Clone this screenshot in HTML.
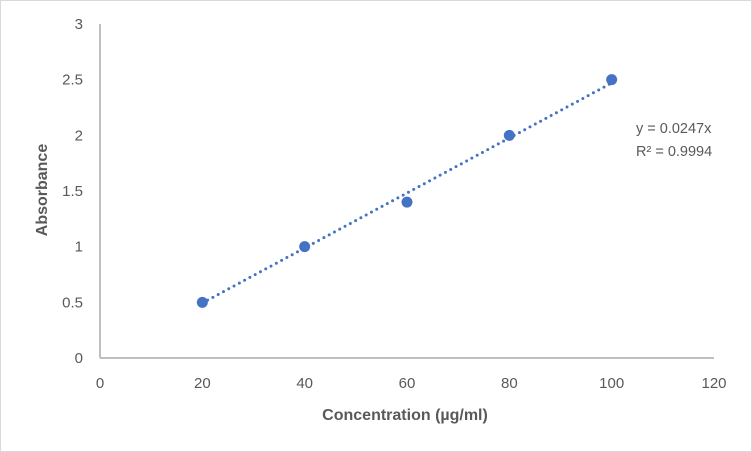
<!DOCTYPE html>
<html><head><meta charset="utf-8"><style>
body{margin:0;background:#fff}
svg{display:block;font-family:"Liberation Sans",sans-serif}
</style></head><body>
<svg id="chart" width="752" height="452">
<rect x="0.5" y="0.5" width="751" height="451" fill="#fff" stroke="#d9d9d9"/>
<g id="axes"></g><g id="marks"></g>
<text x="405" y="420" text-anchor="middle" font-size="16" font-weight="bold" fill="#595959">Concentration (µg/ml)</text>
<text transform="translate(47,190) rotate(-90)" text-anchor="middle" font-size="16" font-weight="bold" fill="#595959">Absorbance</text>
<text x="636" y="133" font-size="14.5" fill="#595959">y = 0.0247x</text>
<text x="636" y="156" font-size="14.5" fill="#595959">R² = 0.9994</text>
</svg>
<script>
const xVals=[20,40,60,80,100];
const yVals=[0.5,1.0,1.4,2.0,2.5];
const xTicks=[0,20,40,60,80,100,120];
const yTicks=[0,0.5,1,1.5,2,2.5,3];
const slope=0.0247;
const NS='http://www.w3.org/2000/svg';
const X=v=>100+v*(714-100)/120;
const Y=v=>358-v*(358-24)/3;
function mk(t,a,p){const e=document.createElementNS(NS,t);for(const k in a)e.setAttribute(k,a[k]);p.appendChild(e);return e;}
const axes=document.getElementById('axes'),marks=document.getElementById('marks');
let l=mk('line',{x1:X(0),y1:Y(0),x2:X(120),y2:Y(0),stroke:'#bfbfbf','stroke-width':2},axes);


l=mk('line',{x1:X(0),y1:Y(0),x2:X(0),y2:Y(3),stroke:'#bfbfbf','stroke-width':2},axes);


xTicks.forEach(t=>{const e=mk('text',{x:X(t),y:388,'text-anchor':'middle','font-size':15,fill:'#595959'},axes);e.textContent=t;

});
yTicks.forEach(t=>{const e=mk('text',{x:83,y:Y(t)+5,'text-anchor':'end','font-size':15,fill:'#595959'},axes);e.textContent=t;

});
const x0=xVals[0],x1=xVals[xVals.length-1];
const tl=mk('line',{x1:X(x0),y1:Y(slope*x0),x2:X(x1),y2:Y(slope*x1),stroke:'#4472c4','stroke-width':3,'stroke-dasharray':'0 6','stroke-linecap':'round'},marks);


xVals.forEach((x,i)=>{const c=mk('circle',{cx:X(x),cy:Y(yVals[i]),r:5.5,fill:'#4472c4'},marks);

});
</script>
</body></html>
